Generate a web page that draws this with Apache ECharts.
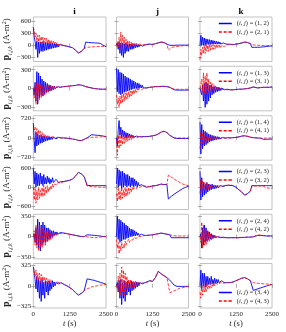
<!DOCTYPE html>
<html><head><meta charset="utf-8">
<script src="https://cdn.jsdelivr.net/npm/echarts@6/dist/echarts.min.js"></script>
<style>html,body{margin:0;padding:0;background:#fff}#c{width:286px;height:332px}</style>
</head><body><div id="c"></div>
<script>
// time samples (s)
const t = [0,30,60,90,120,150,180,210,240,270,300,330,360,390,420,450,480,510,540,570,600,630,660,690,720,750,780,810,840,870,900,930,960,990,
  1050,1150,1250,1350,1450,1550,1650,1750,1800,1850,1900,2000,2100,2200,2300,2400,2500];
const colTitles = ['i','j','k'];
const xTicks = [0,1250,2500];
const yTicks = [[-300,0,300,600],[-300,0,300],[-720,0,720],[-600,0,600],[-350,0,350],[-325,0,325]];
const yRange = [[-400,700],[-355,355],[-830,830],[-700,700],[-385,385],[-355,355]];
const pairs = [['(1, 2)','(2, 1)'],['(1, 3)','(3, 1)'],['(1, 4)','(4, 1)'],['(2, 3)','(3, 2)'],['(2, 4)','(4, 2)'],['(3, 4)','(4, 3)']];

// row 1
const b11=[450,200,100,-100,100,-300,80,-200,80,-150,80,-150,70,-130,70,-120,60,-100,60,-90,50,-80,50,-70,40,-60,40,-50,30,-40,20,-20,10,0,
  -10,-20,-40,-60,-120,-190,-150,-80,80,75,70,65,60,55,50,0,-30];
const r11=[450,350,200,300,100,250,80,250,50,220,60,200,40,180,50,170,30,150,40,130,20,120,30,100,20,80,10,70,10,50,0,40,0,10,
  -10,-20,-40,-60,-120,-190,-150,-80,-60,-50,-45,-40,-35,-30,-30,-25,-30];
const b12=[0,50,-100,80,-200,60,-250,50,-300,40,-200,50,-150,30,-150,40,-100,30,-100,20,-80,30,-60,20,-50,20,-40,10,-30,20,-20,10,-10,10,
  20,30,20,40,60,80,70,30,10,0,0,0,5,5,5,5,5];
const r12=[0,100,-50,200,-100,330,-50,250,0,200,-50,150,0,120,-30,100,0,80,-20,70,0,60,-10,50,0,40,0,30,0,30,10,20,10,20,
  20,30,20,40,60,80,70,30,-120,-80,-50,-40,-30,-20,-10,-10,0];
const b13=[0,250,0,200,0,180,0,160,20,150,20,140,20,130,30,120,30,110,30,100,30,90,30,80,30,70,30,60,30,50,30,40,30,30,
  20,20,30,40,60,80,70,40,-50,-50,-50,-50,-45,-40,-30,-20,-15];
const r13=[-350,-100,-250,-50,-200,0,-200,50,-150,0,-150,30,-120,0,-100,20,-100,0,-80,20,-70,0,-60,10,-50,0,-40,10,-30,0,-20,10,-10,10,
  20,20,30,40,60,80,70,40,20,10,5,0,0,-5,-5,-10,-10];
// row 2
const b21=[0,-100,100,-200,270,-250,250,-150,200,-100,150,-120,120,-80,100,-60,80,-50,60,-40,50,-30,40,-20,40,0,30,10,30,20,30,20,30,30,
  30,35,40,45,50,60,55,40,30,25,20,10,0,-5,-10,-10,-10];
const r21=[0,-150,50,-250,100,-200,80,-180,60,-150,50,-120,40,-100,30,-80,50,-60,40,-40,30,-30,40,-20,30,-10,30,0,30,10,30,20,30,30,
  30,35,40,45,50,60,55,40,30,25,20,10,0,-5,-10,-10,-10];
const b22=[320,-50,300,-80,260,-100,250,-80,230,-60,200,-50,180,-40,170,-30,150,-20,130,-10,120,0,100,0,90,0,80,10,60,10,50,10,30,20,
  10,20,25,30,30,35,35,30,25,20,10,-20,-25,-25,-25,-25,-25];
const r22=[-100,-250,-150,-300,-120,-250,-100,-230,-80,-200,-70,-180,-60,-160,-50,-140,-40,-120,-30,-100,-20,-80,-10,-60,0,-40,0,-30,0,-20,10,-10,10,0,
  10,20,25,30,30,35,35,30,25,20,10,-10,-12,-12,-12,-12,-12];
const b23=[0,20,-100,50,-200,80,-300,100,-250,80,-200,50,-150,60,-100,30,-80,30,-60,20,-50,20,-40,10,-30,10,-20,0,-20,0,-20,-10,-20,-20,
  -20,-20,-15,-10,-10,-5,0,10,20,25,20,10,15,20,20,20,25];
const r23=[0,-30,150,-50,250,-80,200,-100,250,-50,150,-80,100,-50,80,-30,60,-30,40,-20,30,-20,20,-10,10,-20,0,-20,-10,-20,-10,-20,-20,-20,
  -20,-20,-15,-10,-10,-5,0,10,20,25,20,10,15,20,20,20,25];
// row 3
const b31=[550,-100,-550,200,-300,150,-250,100,-200,100,-180,80,-150,60,-120,50,-100,50,-80,40,-60,40,-50,30,-40,30,-30,20,-20,20,-10,10,0,10,
  0,-10,-20,-40,-60,-90,-100,-50,-20,0,20,120,110,100,90,70,50];
const r31=[550,300,400,100,350,50,300,50,250,0,200,20,150,0,120,10,100,0,80,0,60,0,50,10,40,0,30,0,30,10,20,0,20,10,
  0,-10,-20,-40,-60,-90,-100,-50,-20,0,10,20,30,30,40,40,50];
const b32=[0,-300,300,650,100,400,0,300,50,250,0,200,0,180,20,150,10,120,20,100,20,80,30,70,30,60,40,50,40,50,40,50,50,50,
  50,60,80,100,150,220,250,200,150,100,50,0,-20,-20,-20,-20,-20];
const r32=[-100,-650,100,-400,200,-300,100,-250,150,-200,100,-150,80,-120,100,-80,60,-60,80,-40,50,-20,60,0,40,10,50,20,40,30,50,40,50,50,
  50,60,80,100,150,220,250,200,150,100,50,0,0,0,0,0,0];
const b33=[600,-600,500,-400,300,-300,250,-250,200,-200,150,-150,120,-120,100,-100,80,-80,60,-60,50,-50,40,-40,30,-30,20,-20,20,-10,10,0,10,0,
  0,10,20,40,70,80,60,30,20,10,0,0,-10,-50,-50,-45,-40];
const r33=[-400,200,-300,150,-250,200,-200,100,-150,120,-100,80,-80,60,-60,50,-50,40,-40,30,-30,20,-20,20,-10,10,-10,10,0,0,0,0,0,0,
  0,10,20,40,70,80,60,30,20,10,0,0,-10,-10,-5,0,0];
// row 4
const b41=[600,100,500,0,450,50,400,50,450,100,350,50,400,100,300,100,350,150,300,100,250,150,300,150,200,150,250,200,200,150,200,150,180,150,
  180,200,220,260,350,470,420,330,300,60,50,50,50,50,50,50,50];
const r41=[0,-400,0,-500,-100,-400,0,-350,-100,-300,0,-300,50,-250,0,-200,50,-150,0,-100,50,-50,100,0,100,50,100,80,150,100,150,120,150,150,
  180,200,220,260,350,470,420,330,300,40,30,20,10,5,0,0,0];
const b42=[100,600,0,550,50,500,-50,500,0,450,50,400,0,400,50,350,0,300,50,300,0,250,50,200,0,150,50,100,30,80,40,60,30,50,
  0,20,40,50,70,100,80,90,-370,-330,-290,-220,-160,-100,-40,0,30];
const r42=[-200,-450,0,-400,-100,-400,0,-350,-100,-300,0,-300,-50,-250,0,-200,-50,-150,0,-100,-20,-80,0,-50,20,-20,30,0,30,20,40,30,30,40,
  0,20,40,50,70,100,80,90,380,350,320,260,200,150,100,70,50];
const b43=[500,-400,300,-300,150,-250,100,-200,150,-150,100,-100,80,-80,100,-50,60,-50,50,-30,60,-20,40,0,50,0,50,20,60,30,60,50,70,60,
  80,50,0,-80,-150,-250,-200,-120,50,50,50,50,50,50,50,50,50];
const r43=[-200,250,-150,200,-100,150,-100,150,-50,100,-50,100,0,80,0,60,20,60,20,50,30,50,30,50,40,50,40,60,50,60,50,60,60,60,
  80,50,0,-80,-150,-250,-200,-120,40,40,40,40,40,30,-20,-30,-30];
// row 5
const b51=[0,50,-100,150,-150,300,-200,250,-250,200,-150,250,-100,200,-100,150,-80,150,-50,120,-30,100,0,100,20,80,30,80,40,70,50,70,50,60,
  60,50,40,30,20,10,0,0,0,30,30,25,20,15,10,0,0];
const r51=[0,100,-150,200,-200,150,-250,200,-200,150,-200,150,-150,100,-150,80,-100,100,-80,80,-50,60,-30,50,0,60,20,50,30,60,40,60,50,60,
  60,50,40,30,20,10,0,0,0,-5,-10,-15,-20,-20,-10,0,0];
const b52=[0,350,-50,300,-100,280,-80,250,-50,230,-50,200,-30,180,-20,150,0,130,0,120,10,100,10,80,20,60,20,50,20,40,20,30,20,20,
  20,25,30,40,50,60,50,40,35,30,-20,-20,-20,-20,-20,-20,-20];
const r52=[-50,-200,-100,-300,-150,-250,-100,-200,-150,-200,-80,-150,-100,-120,-50,-100,-60,-80,-30,-60,-20,-40,-10,-30,0,-20,0,-10,10,0,10,10,20,20,
  20,25,30,40,50,60,50,40,35,30,20,15,10,10,10,10,10];
const b53=[0,50,-200,150,-150,200,-100,150,-80,100,-50,80,-40,50,-30,30,-20,20,-20,10,-20,0,-20,0,-20,-10,-20,-10,-20,-20,-20,-20,-20,-20,
  -20,-20,-20,-20,-15,-15,-10,-10,-10,-5,0,20,20,15,10,10,10];
const r53=[0,-100,250,-200,200,-150,150,-150,100,-100,80,-80,50,-60,30,-40,20,-30,10,-20,0,-20,-10,-20,-10,-20,-20,-20,-20,-20,-20,-20,-20,-20,
  -20,-20,-20,-20,-15,-15,-10,-10,-10,-5,0,25,25,20,15,10,10];
// row 6
const b61=[300,200,100,-50,150,-100,100,-200,80,-250,100,-150,50,-200,80,-100,60,-150,80,-80,50,-50,80,-20,60,0,50,20,60,30,50,40,50,40,
  20,0,-30,-60,-110,-150,-120,-80,-60,110,105,95,85,70,55,40,25];
const r61=[300,250,150,250,100,200,80,200,50,180,80,150,40,130,60,120,30,100,50,100,40,80,50,70,40,60,50,60,40,50,50,50,40,40,
  20,0,-30,-60,-110,-150,-120,-80,-60,-50,-40,-20,-10,0,10,15,20];
const b62=[0,50,-100,80,-200,100,-300,50,-200,80,-250,50,-150,80,-100,50,-150,80,-80,60,-60,50,-40,60,-20,50,0,50,20,50,30,50,40,50,
  50,80,70,130,230,190,160,130,110,90,60,10,-10,-10,-10,-10,-10];
const r62=[0,-50,150,-100,200,-150,300,-100,250,-150,200,-100,150,-50,100,-80,100,-50,80,-30,80,-20,70,0,60,20,60,30,50,40,50,50,50,50,
  50,80,70,130,230,190,160,130,110,-110,-100,-80,-60,-40,-30,-20,-10];
const b63=[0,250,-50,200,0,200,-20,150,0,150,20,120,20,150,30,100,30,120,40,100,40,100,50,80,50,80,50,60,50,60,50,50,50,50,
  50,60,80,100,120,130,110,80,70,-75,-65,-50,-35,-20,-5,10,20];
const r63=[-100,-200,0,-150,50,-100,0,-100,50,-50,0,-50,50,-30,20,-20,50,0,40,10,50,20,40,30,50,30,50,40,50,40,50,50,50,50,
  50,60,80,100,120,130,110,80,70,50,45,40,35,30,30,25,20];

const BLUE = [[b11,b12,b13],[b21,b22,b23],[b31,b32,b33],[b41,b42,b43],[b51,b52,b53],[b61,b62,b63]];
const RED  = [[r11,r12,r13],[r21,r22,r23],[r31,r32,r33],[r41,r42,r43],[r51,r52,r53],[r61,r62,r63]];

// layout
const colLeft = [33, 116.5, 200], colW = [73, 72, 72];
const rowTop = [17, 66.3, 115.7, 165, 214.3, 263.5], rowH = 44.5;
const SERIF = 'Liberation Serif';
const frame = '#b4b4b4', tickC = '#7a7a7a', txt = '#262626';
const BLUEC = '#0000ff', REDC = '#ff0000';
const fmtNum = v => String(v).replace('-', '\u2212');
const ICON_SOLID = 'path://M0,0h0.01v0.01h-0.01z M0,2.3h13v1.5h-13z M12.99,5.99h0.01v0.01h-0.01z';
const ICON_DASH = 'path://M0,0h0.01v0.01h-0.01z M0,2.3h3v1.5h-3z M4.8,2.3h3v1.5h-3z M9.6,2.3h3.4v1.5h-3.4z M12.99,5.99h0.01v0.01h-0.01z';

const grid = [], xAxis = [], yAxis = [], series = [], xTop = [], yRight = [];
for (let r = 0; r < 6; r++) {
  for (let c = 0; c < 3; c++) {
    const g = r * 3 + c;
    grid.push({left: colLeft[c], top: rowTop[r], width: colW[c], height: rowH, show: true,
      borderColor: frame, borderWidth: 0.8, backgroundColor: 'transparent'});
    const last = r === 5;
    xAxis.push({type: 'value', gridIndex: g, min: 0, max: 2500, interval: 1250,
      axisLine: {show: false}, splitLine: {show: false},
      axisTick: {show: true, inside: true, length: 2, lineStyle: {color: tickC, width: 0.6}},
      axisLabel: {show: last, fontFamily: SERIF, fontSize: 7, color: txt, margin: 3,
        showMinLabel: true, showMaxLabel: true, formatter: v => String(v)},
      name: last ? '{it|t} (s)' : '', nameLocation: 'middle', nameGap: 11,
      nameTextStyle: {fontFamily: SERIF, fontSize: 8.5, color: txt,
        rich: {it: {fontFamily: SERIF, fontStyle: 'italic', fontSize: 8.5, color: txt}}}});
    xTop.push({type: 'value', gridIndex: g, position: 'top', min: 0, max: 2500, interval: 1250,
      axisLine: {show: false}, splitLine: {show: false}, axisLabel: {show: false},
      axisTick: {show: true, inside: true, length: 2, lineStyle: {color: tickC, width: 0.6}}});
    yAxis.push({type: 'value', gridIndex: g, min: yRange[r][0], max: yRange[r][1],
      axisLine: {show: false}, splitLine: {show: false},
      axisTick: {show: true, inside: true, length: 2, customValues: yTicks[r], lineStyle: {color: tickC, width: 0.6}},
      axisLabel: {show: c === 0, customValues: yTicks[r], fontFamily: SERIF, fontSize: 7, color: txt, margin: 2,
        formatter: fmtNum},
      name: c === 0 ? '{b|p}{s|i,j,k} {n|(A-m}{sup|2}{n|)}' : '', nameLocation: 'middle', nameGap: 13,
      nameTextStyle: {fontFamily: SERIF, fontSize: 9, color: txt,
        rich: {
          b: {fontFamily: SERIF, fontWeight: 'bold', fontSize: 9.5, color: txt, lineHeight: 12},
          s: {fontFamily: SERIF, fontStyle: 'italic', fontSize: 6, color: txt, lineHeight: 12, verticalAlign: 'bottom'},
          n: {fontFamily: SERIF, fontSize: 9, color: txt, lineHeight: 12},
          sup: {fontFamily: SERIF, fontSize: 6, color: txt, lineHeight: 12, verticalAlign: 'top'}
        }}});
    yRight.push({type: 'value', gridIndex: g, position: 'right', min: yRange[r][0], max: yRange[r][1],
      axisLine: {show: false}, splitLine: {show: false}, axisLabel: {show: false},
      axisTick: {show: true, inside: true, length: 2, customValues: yTicks[r], lineStyle: {color: tickC, width: 0.6}}});
    series.push({type: 'line', name: pairs[r][0], xAxisIndex: g, yAxisIndex: g, symbol: 'none',
      lineStyle: {color: BLUEC, width: 0.9}, itemStyle: {color: BLUEC},
      data: t.map((x, i) => [x, BLUE[r][c][i]]), z: 2});
    series.push({type: 'line', name: pairs[r][1], xAxisIndex: g, yAxisIndex: g, symbol: 'none',
      lineStyle: {color: REDC, width: 0.9, type: [3, 1.5], opacity: 0.85}, itemStyle: {color: REDC},
      data: t.map((x, i) => [x, RED[r][c][i]]), z: 3});
  }
}

const legendRich = {it: {fontFamily: SERIF, fontStyle: 'italic', fontSize: 6.5, color: txt},
                    n: {fontFamily: SERIF, fontSize: 6.5, color: txt}};
const legend = pairs.map((p, r) => ({
  data: [
    {name: p[0], icon: ICON_SOLID, itemStyle: {color: BLUEC, borderWidth: 0, opacity: 1}},
    {name: p[1], icon: ICON_DASH, itemStyle: {color: REDC, borderWidth: 0, opacity: 1}}
  ],
  orient: 'vertical', right: 17, top: r === 5 ? 289 : rowTop[r] + 3,
  itemWidth: 13, itemHeight: 6, itemGap: 1.5, padding: 0, selectedMode: false,
  textStyle: {fontFamily: SERIF, fontSize: 6.5, color: txt, rich: legendRich},
  formatter: n => '{n|(}{it|i}{n|, }{it|j}{n|) = ' + n + '}'
}));

const title = colTitles.map((s, c) => ({text: s, left: colLeft[c] + colW[c] / 2, top: 2, textAlign: 'center',
  textStyle: {fontFamily: SERIF, fontWeight: 'bold', fontSize: 9, color: '#000'}}));

const chart = echarts.init(document.getElementById('c'), null, {renderer: 'canvas'});
chart.setOption({animation: false, title, legend, grid,
  xAxis: xAxis.concat(xTop), yAxis: yAxis.concat(yRight), series});
</script></body></html>
